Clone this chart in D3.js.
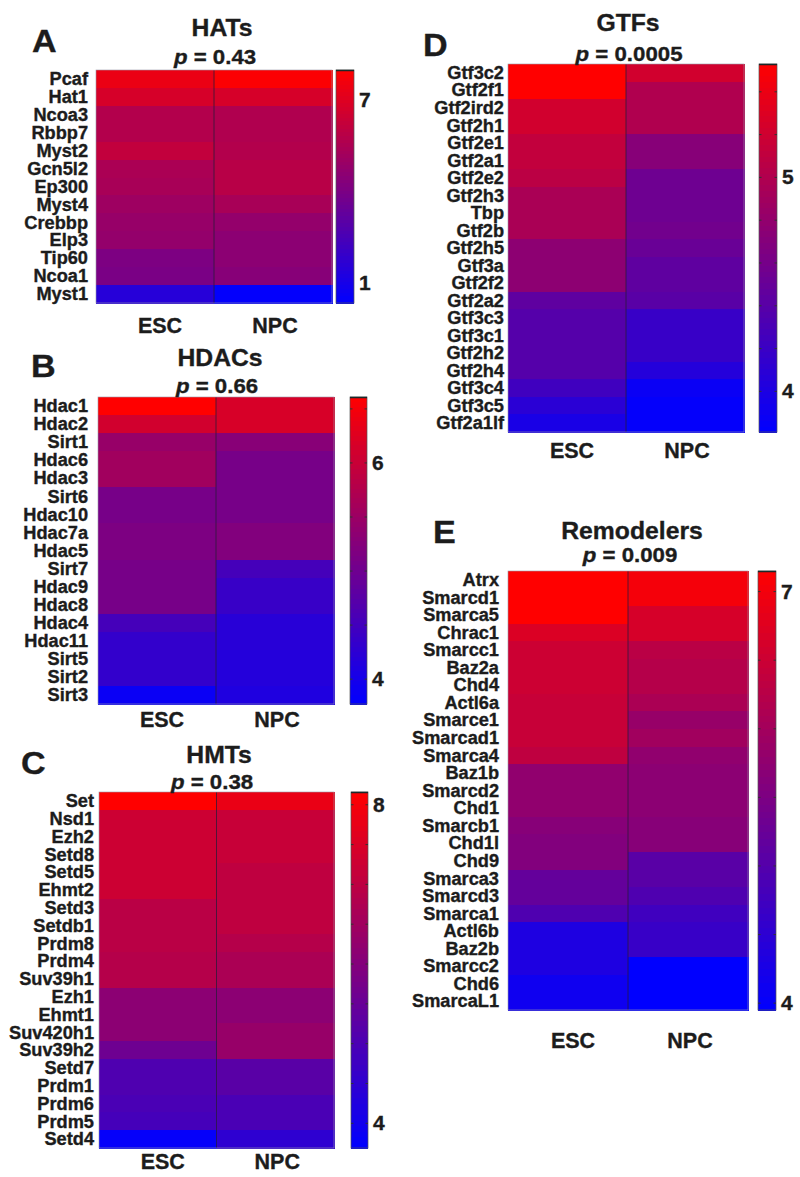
<!DOCTYPE html>
<html>
<head>
<meta charset="utf-8">
<script src="https://cdn.jsdelivr.net/npm/d3@7"></script>
<style>
  html, body { margin: 0; padding: 0; background: #fff; }
  svg { display: block; font-family: "Liberation Sans", Arial, sans-serif; }
</style>
</head>
<body>
<svg id="chart" width="800" height="1177"></svg>
<script>
// ---------------- DATA ----------------
const conditions = ["ESC", "NPC"];

// A: HATs
const hatsGenes = ["Pcaf","Hat1","Ncoa3","Rbbp7","Myst2","Gcn5l2","Ep300","Myst4","Crebbp","Elp3","Tip60","Ncoa1","Myst1"];
const hatsESC = [7.37,6.76,5.69,5.69,6.15,5.46,5.38,5.08,4.85,4.77,4.08,4.01,1.49];
const hatsNPC = [7.90,6.76,5.61,5.61,5.69,5.84,5.84,5.38,4.77,4.54,4.54,4.39,0.42];
const hatsLimits = [0.34, 7.98];
const hatsTicks = [];
const hatsTickLabels = [1, 7];
const hatsP = "0.43";

// B: HDACs
const hdacsGenes = ["Hdac1","Hdac2","Sirt1","Hdac6","Hdac3","Sirt6","Hdac10","Hdac7a","Hdac5","Sirt7","Hdac9","Hdac8","Hdac4","Hdac11","Sirt5","Sirt2","Sirt3"];
const hdacsESC = [6.61,6.10,5.45,5.56,5.56,5.10,5.10,5.16,5.16,5.10,5.10,5.10,4.54,4.34,4.34,4.34,3.88];
const hdacsNPC = [6.16,6.16,5.28,5.10,5.10,5.10,5.10,5.22,5.22,4.54,4.39,4.39,4.22,4.22,4.17,4.17,4.11];
const hdacsLimits = [3.77, 6.61];
const hdacsTicks = [4, 4.5, 5, 5.5, 6, 6.5];
const hdacsTickLabels = [4, 6];
const hdacsP = "0.66";

// C: HMTs
const hmtsGenes = ["Set","Nsd1","Ezh2","Setd8","Setd5","Ehmt2","Setd3","Setdb1","Prdm8","Prdm4","Suv39h1","Ezh1","Ehmt1","Suv420h1","Suv39h2","Setd7","Prdm1","Prdm6","Prdm5","Setd4"];
const hmtsESC = [8.16,7.27,7.27,7.27,7.27,7.27,6.95,6.95,6.95,6.86,6.86,6.15,6.15,6.15,5.61,5.08,5.08,4.99,4.90,3.78];
const hmtsNPC = [7.80,7.18,7.18,7.18,7.04,7.04,7.04,7.04,6.86,6.68,6.68,6.15,6.15,6.33,6.33,5.25,5.25,4.99,4.99,4.49];
const hmtsLimits = [3.69, 8.16];
const hmtsTicks = [4, 4.5, 5, 5.5, 6, 6.5, 7, 7.5, 8];
const hmtsTickLabels = [4, 8];
const hmtsP = "0.38";

// D: GTFs
const gtfsGenes = ["Gtf3c2","Gtf2f1","Gtf2ird2","Gtf2h1","Gtf2e1","Gtf2a1","Gtf2e2","Gtf2h3","Tbp","Gtf2b","Gtf2h5","Gtf3a","Gtf2f2","Gtf2a2","Gtf3c3","Gtf3c1","Gtf2h2","Gtf2h4","Gtf3c4","Gtf3c5","Gtf2a1lf"];
const gtfsESC = [5.53,5.53,5.22,5.22,5.12,5.12,5.07,4.96,4.96,4.96,4.76,4.76,4.76,4.45,4.38,4.38,4.38,4.38,4.24,4.09,3.98];
const gtfsNPC = [5.22,5.00,5.00,5.00,4.72,4.72,4.55,4.55,4.55,4.58,4.52,4.45,4.45,4.41,4.19,4.19,4.19,4.05,3.88,3.84,3.84];
const gtfsLimits = [3.81, 5.53];
const gtfsTicks = [4, 4.2, 4.4, 4.6, 4.8, 5, 5.2, 5.4];
const gtfsTickLabels = [4, 5];
const gtfsP = "0.0005";

// E: Remodelers
const remGenes = ["Atrx","Smarcd1","Smarca5","Chrac1","Smarcc1","Baz2a","Chd4","Actl6a","Smarce1","Smarcad1","Smarca4","Baz1b","Smarcd2","Chd1","Smarcb1","Chd1l","Chd9","Smarca3","Smarcd3","Smarca1","Actl6b","Baz2b","Smarcc2","Chd6","SmarcaL1"];
const remESC = [7.15,7.15,7.15,6.70,6.51,6.51,6.51,6.45,6.45,6.45,6.35,5.77,5.77,5.77,5.65,5.58,5.58,5.20,5.20,4.94,4.33,4.33,4.33,4.14,4.14];
const remNPC = [7.02,7.02,6.64,6.64,6.29,6.22,6.22,6.09,5.84,5.97,5.77,5.71,5.71,5.71,5.65,5.65,5.07,5.07,4.94,4.75,4.65,4.65,3.95,3.95,3.95];
const remLimits = [3.95, 7.15];
const remTicks = [4, 4.5, 5, 5.5, 6, 6.5, 7];
const remTickLabels = [4, 7];
const remP = "0.009";

// ---------------- LAYOUT (positions only) ----------------
const panels = [
  { letter: "A", title: "HATs", p: hatsP, genes: hatsGenes, esc: hatsESC, npc: hatsNPC, limits: hatsLimits, ticks: hatsTicks, tickLabels: hatsTickLabels,
    hx: [96, 332], hy: [70, 303], cbx: [336, 354], labelX: 88, titleX: 222, titleY: 36, pX: 215, pY: 64, letterX: 32, letterY: 52, xlabY: 333 },
  { letter: "B", title: "HDACs", p: hdacsP, genes: hdacsGenes, esc: hdacsESC, npc: hdacsNPC, limits: hdacsLimits, ticks: hdacsTicks, tickLabels: hdacsTickLabels,
    hx: [98, 334], hy: [397, 704], cbx: [350, 367], labelX: 88, titleX: 220, titleY: 366, pX: 217, pY: 393, letterX: 31, letterY: 377, xlabY: 727 },
  { letter: "C", title: "HMTs", p: hmtsP, genes: hmtsGenes, esc: hmtsESC, npc: hmtsNPC, limits: hmtsLimits, ticks: hmtsTicks, tickLabels: hmtsTickLabels,
    hx: [99, 334], hy: [792, 1148], cbx: [351, 368], labelX: 94, titleX: 219, titleY: 763, pX: 212, pY: 789, letterX: 21, letterY: 774, xlabY: 1169 },
  { letter: "D", title: "GTFs", p: gtfsP, genes: gtfsGenes, esc: gtfsESC, npc: gtfsNPC, limits: gtfsLimits, ticks: gtfsTicks, tickLabels: gtfsTickLabels,
    hx: [508, 744], hy: [64, 432], cbx: [759, 777], labelX: 504, titleX: 628, titleY: 31, pX: 629, pY: 61, letterX: 423, letterY: 56, xlabY: 458 },
  { letter: "E", title: "Remodelers", p: remP, genes: remGenes, esc: remESC, npc: remNPC, limits: remLimits, ticks: remTicks, tickLabels: remTickLabels,
    hx: [508, 748], hy: [571, 1010], cbx: [758, 776], labelX: 499, titleX: 632, titleY: 539, pX: 630, pY: 562, letterX: 433, letterY: 543, xlabY: 1048 }
];

const svg = d3.select("#chart");
svg.append("rect").attr("width", 800).attr("height", 1177).attr("fill", "#fff");

const INK = "#1c1c1c";
function stext(g, x, y, sx, size, anchor, str) {
  return g.append("text")
    .attr("transform", `translate(${x},${y}) scale(${sx},1)`)
    .attr("text-anchor", anchor)
    .attr("font-size", size)
    .attr("font-weight", "bold")
    .attr("fill", INK)
    .attr("stroke", INK)
    .attr("stroke-width", 0.35)
    .text(str);
}

panels.forEach(P => {
  const g = svg.append("g");
  const color = d3.scaleLinear().domain(P.limits).range(["#0000ff", "#ff0000"]).interpolate(d3.interpolateRgb).clamp(true);
  const x = d3.scaleBand().domain(conditions).range(P.hx);
  const y = d3.scaleBand().domain(P.genes).range(P.hy);

  const cells = [];
  P.genes.forEach((gname, i) => {
    cells.push({ gene: gname, cond: "ESC", v: P.esc[i] });
    cells.push({ gene: gname, cond: "NPC", v: P.npc[i] });
  });

  g.selectAll("rect.cell").data(cells).join("rect")
    .attr("class", "cell")
    .attr("x", d => x(d.cond))
    .attr("y", d => y(d.gene))
    .attr("width", x.bandwidth() + 0.5)
    .attr("height", y.bandwidth() + 0.5)
    .attr("fill", d => color(d.v))
    .attr("shape-rendering", "crispEdges");

  // divider between columns
  g.append("line")
    .attr("x1", x("NPC")).attr("x2", x("NPC"))
    .attr("y1", P.hy[0]).attr("y2", P.hy[1])
    .attr("stroke", "#2a1a3a").attr("stroke-opacity", 0.75).attr("stroke-width", 1);

  // heatmap frame
  g.append("rect")
    .attr("x", P.hx[0]).attr("y", P.hy[0])
    .attr("width", P.hx[1] - P.hx[0]).attr("height", P.hy[1] - P.hy[0])
    .attr("fill", "none").attr("stroke", "#9a9aa8").attr("stroke-width", 0.6);

  // row labels
  P.genes.forEach(gname => {
    stext(g, P.labelX, y(gname) + y.bandwidth() / 2 + 6.2, 1.04, 17.5, "end", gname);
  });

  // column labels
  conditions.forEach(c => {
    stext(g, x(c) + x.bandwidth() / 2 + (c === "ESC" ? 5 : 2), P.xlabY, 1.0, 21.5, "middle", c);
  });

  // title, p, panel letter
  stext(g, P.titleX, P.titleY, 1.03, 24, "middle", P.title);
  const pt = g.append("text")
    .attr("transform", `translate(${P.pX},${P.pY}) scale(1.06,1)`)
    .attr("text-anchor", "middle")
    .attr("font-size", 21)
    .attr("font-weight", "bold")
    .attr("fill", INK)
    .attr("stroke", INK)
    .attr("stroke-width", 0.35);
  pt.append("tspan").attr("font-style", "italic").text("p");
  pt.append("tspan").text(" = " + P.p);
  stext(g, P.letterX, P.letterY, 1.1, 31, "start", P.letter);

  // colorbar
  const cy = d3.scaleLinear().domain(P.limits).range([P.hy[1], P.hy[0]]);
  const nSteps = 64;
  const steps = d3.range(nSteps).map(i => P.limits[0] + (P.limits[1] - P.limits[0]) * i / nSteps);
  const stepH = (P.limits[1] - P.limits[0]) / nSteps;
  g.selectAll("rect.cb").data(steps).join("rect")
    .attr("class", "cb")
    .attr("x", P.cbx[0])
    .attr("width", P.cbx[1] - P.cbx[0])
    .attr("y", d => cy(d + stepH))
    .attr("height", d => cy(d) - cy(d + stepH) + 0.5)
    .attr("fill", d => color(d + stepH / 2))
    .attr("shape-rendering", "crispEdges");
  g.append("rect")
    .attr("x", P.cbx[0]).attr("y", P.hy[0])
    .attr("width", P.cbx[1] - P.cbx[0]).attr("height", P.hy[1] - P.hy[0])
    .attr("fill", "none").attr("stroke", "#555").attr("stroke-width", 0.7);
  g.append("line")
    .attr("x1", P.cbx[0]).attr("x2", P.cbx[1])
    .attr("y1", P.hy[0] + 0.5).attr("y2", P.hy[0] + 0.5)
    .attr("stroke", "#1a2a2a").attr("stroke-width", 1.5);

  // colorbar ticks (small marks inside both edges)
  P.ticks.forEach(t => {
    g.append("line").attr("x1", P.cbx[0]).attr("x2", P.cbx[0] + 2.5)
      .attr("y1", cy(t)).attr("y2", cy(t)).attr("stroke", "#333").attr("stroke-width", 1);
    g.append("line").attr("x1", P.cbx[1] - 2.5).attr("x2", P.cbx[1])
      .attr("y1", cy(t)).attr("y2", cy(t)).attr("stroke", "#333").attr("stroke-width", 1);
  });
  P.tickLabels.forEach(t => {
    stext(g, P.cbx[1] + 5, cy(t) + 7, 1.05, 20, "start", String(t));
  });
});
</script>
</body>
</html>
